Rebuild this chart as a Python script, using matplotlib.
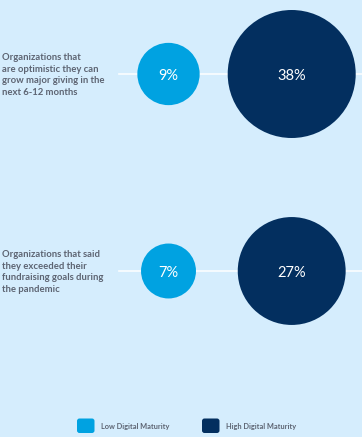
import numpy as np
import matplotlib.pyplot as plt
from matplotlib.patches import Circle, FancyBboxPatch

questions = ["Organizations that\nare optimistic they can\ngrow major giving in the\nnext 6-12 months",
             "Organizations that said\nthey exceeded their\nfundraising goals during\nthe pandemic"]
low = [9, 7]
high = [38, 27]
series = ["Low Digital Maturity", "High Digital Maturity"]

bg = '#d5edfd'
c_low = '#00a2e1'
c_high = '#032f5f'
txt = '#5d6472'

fig = plt.figure(figsize=(3.62, 4.37), dpi=100, facecolor=bg)
ax = fig.add_axes([0, 0, 1, 1])
ax.set_facecolor(bg)
ax.set_xlim(0, 362)
ax.set_ylim(437, 0)
ax.set_aspect('equal')
ax.axis('off')

k = 64 / np.sqrt(38)  # radius scale: area proportional to value
row_y = [74, 271]
x_low, x_high = 168.5, 291.7

for i, q in enumerate(questions):
    y = row_y[i]
    ax.plot([119, 362], [y, y], color='white', lw=1.2, alpha=0.9, zorder=1)
    ax.text(2, y - 21, q, fontsize=6.8, fontweight='bold', color=txt,
            family='Lato', va='top', ha='left', linespacing=1.38)
    for x, v, c in [(x_low, low[i], c_low), (x_high, high[i], c_high)]:
        ax.add_patch(Circle((x, y), k * np.sqrt(v), color=c, zorder=2, lw=0))
        ax.text(x, y + 2, f"{v}%", fontsize=10.5, color='white', family='Lato',
                fontweight='normal', ha='center', va='center', zorder=3)

for x0, lab, c in [(77, series[0], c_low), (202, series[1], c_high)]:
    ax.add_patch(FancyBboxPatch((x0, 418.5), 17.5, 14.5,
                                boxstyle='round,pad=0,rounding_size=2.5',
                                color=c, lw=0))
    ax.text(x0 + 24, 426, lab, fontsize=5.3, fontweight='bold', color=txt,
            family='Lato', va='center', ha='left')

fig.savefig('out.png', dpi=100, facecolor=bg)
